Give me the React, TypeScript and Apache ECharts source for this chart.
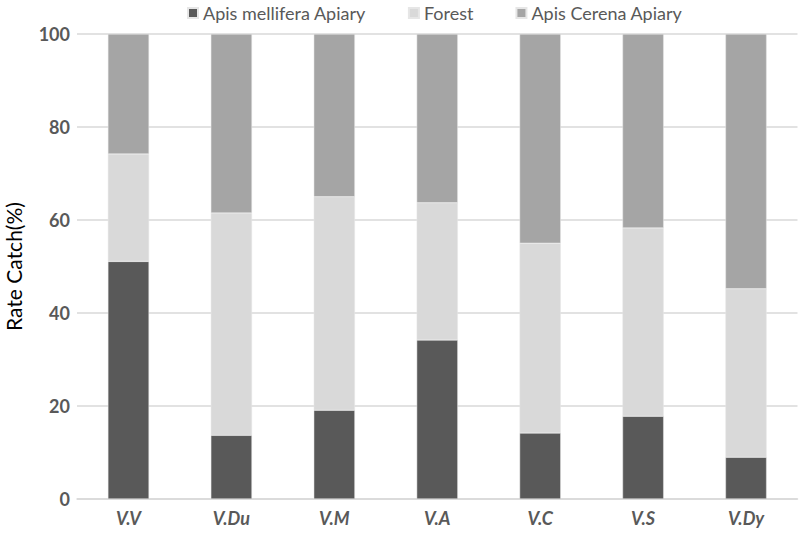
import React, { useEffect, useRef } from "react";
import * as echarts from "echarts";

const categories = ["V.V", "V.Du", "V.M", "V.A", "V.C", "V.S", "V.Dy"];
const melliferaValues = [51.1, 13.7, 19.1, 34.2, 14.2, 17.8, 9.0];
const forestValues = [23.1, 47.8, 45.9, 29.5, 40.8, 40.5, 36.2];
const cerenaValues = [25.8, 38.5, 35.0, 36.3, 45.0, 41.7, 54.8];
const seriesNames = ["Apis mellifera Apiary", "Forest", "Apis Cerena Apiary"];
const yTicks = { min: 0, max: 100, interval: 20 };

const FONT = "Lato, 'Open Sans', sans-serif";

export default function App() {
  const ref = useRef<HTMLDivElement>(null);
  useEffect(() => {
    if (!ref.current) return;
    const chart = echarts.init(ref.current, undefined, { renderer: "svg" });
    const colors = ["#595959", "#d9d9d9", "#a5a5a5"];
    const data = [melliferaValues, forestValues, cerenaValues];
    chart.setOption({
      animation: false,
      textStyle: { fontFamily: FONT },
      legend: {
        top: -1,
        left: 182,
        itemWidth: 10,
        itemHeight: 10,
        itemGap: 42,
        icon: "rect",
        textStyle: { color: "#595959", fontSize: 18, fontFamily: FONT },
        data: seriesNames,
      },
      grid: {
        left: 77,
        right: 2.5,
        top: 34,
        bottom: 37,
        containLabel: false,
        outerBoundsMode: "none",
      },
      xAxis: {
        type: "category",
        data: categories,
        axisLine: { show: true, lineStyle: { color: "#d9d9d9", width: 1.5 } },
        axisTick: { show: false },
        axisLabel: {
          color: "#595959",
          fontSize: 18,
          fontWeight: "bold",
          fontStyle: "italic",
          margin: 10,
          fontFamily: FONT,
        },
      },
      yAxis: {
        type: "value",
        min: yTicks.min,
        max: yTicks.max,
        interval: yTicks.interval,
        name: "Rate Catch(%)",
        nameLocation: "middle",
        nameGap: 53,
        nameTextStyle: { color: "#000", fontSize: 21, fontFamily: FONT },
        axisLine: { show: false },
        axisTick: { show: false },
        splitLine: { lineStyle: { color: "#d9d9d9", width: 1.5 } },
        axisLabel: {
          color: "#595959",
          fontSize: 18,
          fontWeight: "bold",
          margin: 7,
          fontFamily: FONT,
        },
      },
      series: seriesNames.map((name, i) => ({
        name,
        type: "bar",
        stack: "total",
        barWidth: "40%",
        data: data[i],
        itemStyle: { color: colors[i], borderColor: "#e6e6e6", borderWidth: 0.5 },
      })),
    });
    return () => chart.dispose();
  }, []);
  return (
    <div
      ref={ref}
      style={{ position: "absolute", left: 0, top: 0, width: 800, height: 536 }}
    />
  );
}
